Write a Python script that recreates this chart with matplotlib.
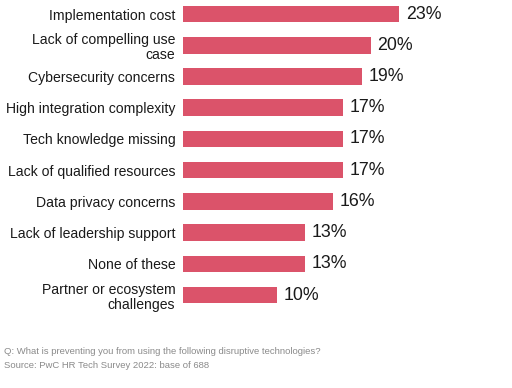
import matplotlib
matplotlib.use("Agg")
import matplotlib.pyplot as plt

# ----------------------------------------
# Data
# ----------------------------------------
categories = [
    "Implementation cost",
    "Lack of compelling use\ncase",
    "Cybersecurity concerns",
    "High integration complexity",
    "Tech knowledge missing",
    "Lack of qualified resources",
    "Data privacy concerns",
    "Lack of leadership support",
    "None of these",
    "Partner or ecosystem\nchallenges",
]
values = [23, 20, 19, 17, 17, 17, 16, 13, 13, 10]
footnote_lines = [
    "Q: What is preventing you from using the following disruptive technologies?",
    "Source: PwC HR Tech Survey 2022: base of 688",
]

bar_color = "#db536a"
text_color = "#1a1a1a"

plt.rcParams["font.family"] = ["Liberation Sans", "DejaVu Sans"]

# ----------------------------------------
# Figure
# ----------------------------------------
fig = plt.figure(figsize=(5.12, 3.88), dpi=100)
ax = fig.add_axes([183 / 512, 0.201, 307 / 512, 0.799])

pos = list(range(len(categories)))
ax.barh(pos, values, height=0.53, color=bar_color)
ax.set_xlim(0, 307 / 9.4)
ax.set_ylim(9.48, -0.45)

# value labels
for y, v in zip(pos, values):
    ax.text(v + 0.7, y, f"{v}%", va="center", ha="left",
            fontsize=12.8, color=text_color)

# category labels
ax.set_yticks(pos)
ax.set_yticklabels(categories, fontsize=10.1, color=text_color,
                   linespacing=1.1)
ax.tick_params(axis="y", length=0, pad=5.5)
ax.set_xticks([])
for s in ax.spines.values():
    s.set_visible(False)

# footnote
for i, line in enumerate(footnote_lines):
    fig.text(4 / 512, 1 - (352 + 14 * i) / 388, line, fontsize=6.8,
             color="#8a8a8a", va="center", ha="left")

fig.savefig("out.png", dpi=100)
